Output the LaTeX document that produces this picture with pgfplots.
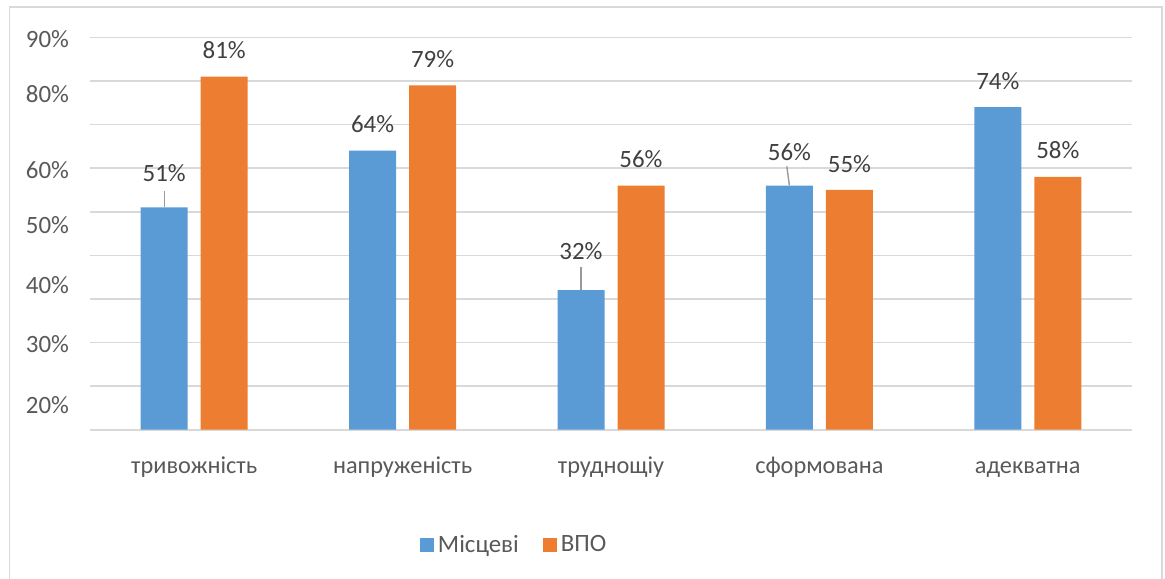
\documentclass[border=0pt]{standalone}
\usepackage{pgfplots}
\pgfplotsset{compat=1.18}
\usepackage{pgfplotstable}
\usepackage{fontspec}
\setmainfont{Carlito}
\definecolor{blueS}{HTML}{5B9BD5}
\definecolor{orangeS}{HTML}{ED7D31}
\definecolor{gridc}{HTML}{D9D9D9}
\definecolor{txt}{HTML}{595959}
\definecolor{lbl}{HTML}{404040}

% category, local residents, displaced persons, label lift for the first series
\pgfplotstableread{
x  loc  vpo  dy
0  51   81   4.2
1  64   79   0
2  32   56   6.2
3  56   55   3.8
4  74   58   0
}\datatab

\begin{document}
\begin{tikzpicture}
\useasboundingbox (0,0) rectangle (582.5bp,289.5bp);
% chart frame
\draw[gridc, line width=0.8bp] (4.65bp,-1bp) -- (4.65bp,285.85bp) -- (580.85bp,285.85bp) -- (580.85bp,-1bp);
\begin{axis}[
  at={(45bp,74.65bp)}, anchor=south west,
  scale only axis,
  width=521bp, height=196.2bp,
  ybar=6.5bp, bar width=23.5bp,
  xmin=-0.5, xmax=4.5,
  ymin=0, ymax=90,
  axis line style={draw=none},
  ytick={0,10,...,90},
  yticklabels={},
  ymajorgrids,
  grid style={gridc, line width=0.8bp},
  major tick length=0pt,
  extra y ticks={89.5,76.9,59.6,46.9,33.2,19.6,5.7},
  extra y tick labels={90\%,80\%,60\%,50\%,40\%,30\%,20\%},
  extra y tick style={grid=none, major tick length=0pt},
  yticklabel style={anchor=east, xshift=-7bp, text=txt, font=\fontsize{12.5}{14}\selectfont},
  xtick=data,
  xticklabels={тривожність,напруженість,труднощіу,сформована,адекватна},
  xticklabel style={yshift=-10bp, text=txt, font=\fontsize{12.2}{14}\selectfont,
    text height=8.6bp, text depth=2.6bp},
  nodes near coords={\pgfmathprintnumber[assume math mode=true]{\pgfplotspointmeta}\%},
  nodes near coords style={text=lbl, font=\fontsize{12.5}{14}\selectfont},
  legend style={at={(0.408,-0.294)}, anchor=center, draw=none, fill=none,
    legend columns=2, text=txt, font=\fontsize{12.5}{14}\selectfont,
    /tikz/every even column/.append style={column sep=10bp}},
  legend image code/.code={\fill[#1] (0bp,-3.5bp) rectangle (7bp,3.5bp);},
]
\addplot[fill=blueS, draw=none,
  visualization depends on={\thisrow{dy} \as \dy},
  nodes near coords style={yshift=5.3bp+\dy bp}] table[x=x, y=loc] {\datatab};
\addplot[fill=orangeS, draw=none,
  nodes near coords style={yshift=5.3bp}] table[x=x, y=vpo] {\datatab};
\legend{Місцеві,ВПО}
% leader lines for lifted labels
\draw[gray!80, line width=0.7bp] ([xshift=-15bp]axis cs:0,51) -- ++(0bp,8bp);
\draw[gray!80, line width=0.7bp] ([xshift=-15bp]axis cs:2,32) -- ++(0bp,11.7bp);
\draw[gray!80, line width=0.7bp] ([xshift=-15bp]axis cs:3,56) -- ++(-1.3bp,9.6bp);
\end{axis}
\end{tikzpicture}
\end{document}
